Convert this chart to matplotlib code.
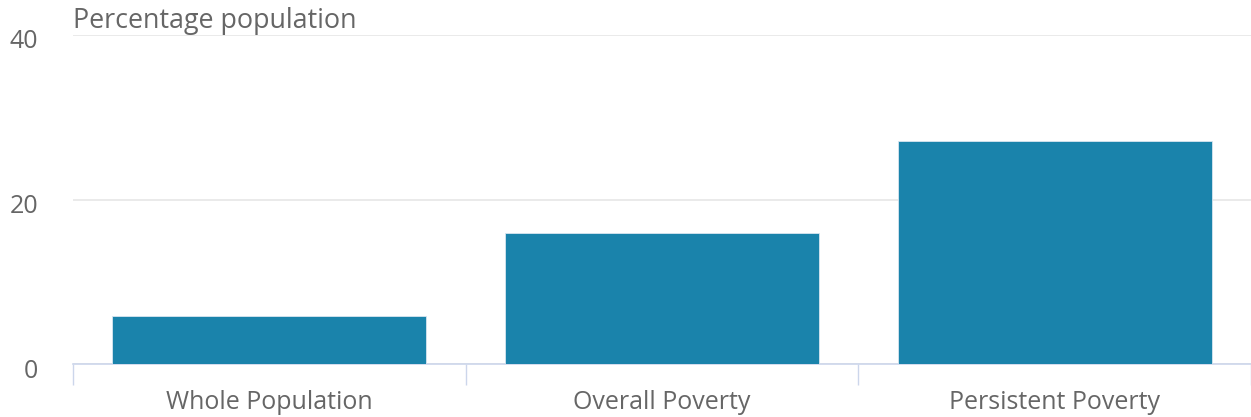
import matplotlib.pyplot as plt
from matplotlib.transforms import ScaledTranslation

# Data
categories = ["Whole Population", "Overall Poverty", "Persistent Poverty"]
values = [5.8, 15.9, 27.1]
y_ticks = [0, 20, 40]

plt.rcParams['font.family'] = ['Open Sans', 'DejaVu Sans']
text_col = '#666666'

fig = plt.figure(figsize=(12.51, 4.17), dpi=100)
ax = fig.add_axes([73 / 1251, 1 - 364 / 417, 1 - 73 / 1251, (364 - 35) / 417])

x = range(len(categories))
ax.bar(x, values, width=0.8, color='#1a83ab', edgecolor='#d8e6f0', linewidth=0.6, zorder=3)

ax.set_xlim(-0.5, len(categories) - 0.5)
ax.set_ylim(0, 40)
ax.set_yticks(y_ticks)
ax.grid(axis='y', color='#e6e6e6', linewidth=1.2, zorder=0)

# x axis: category labels, ticks at the boundaries
ax.set_xticks(list(x))
ax.set_xticklabels(categories, fontsize=18, color=text_col)
ax.tick_params(axis='x', length=0, pad=19)
ax.set_xticks([i - 0.5 for i in range(len(categories) + 1)], minor=True)
ax.tick_params(axis='x', which='minor', length=15, width=1, color='#ccd6eb')
ax.tick_params(axis='y', length=0, labelsize=18, labelcolor=text_col, pad=25)

# y labels sit a little below their grid lines
shift = ScaledTranslation(0, -4 / 100, fig.dpi_scale_trans)
for lbl in ax.get_yticklabels():
    lbl.set_transform(lbl.get_transform() + shift)

for s in ['top', 'right', 'left']:
    ax.spines[s].set_visible(False)
ax.spines['bottom'].set_color('#ccd6eb')
ax.spines['bottom'].set_linewidth(1.2)

fig.text(73 / 1251, 1 - 28 / 417, "Percentage population", fontsize=19.4, color=text_col,
         ha='left', va='baseline')

fig.savefig('out.png', dpi=100)
